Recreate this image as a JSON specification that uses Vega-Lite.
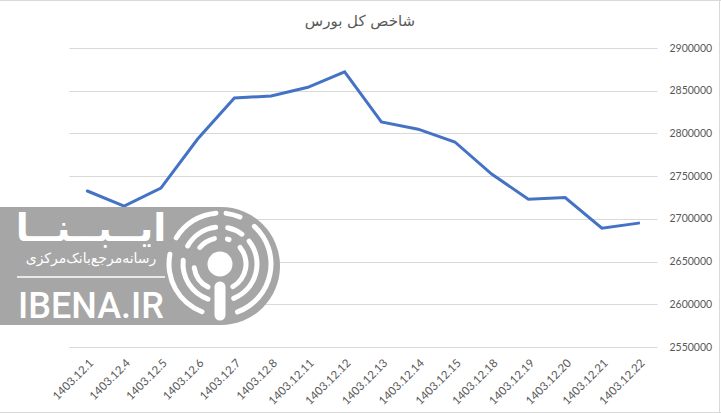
{"$schema":"https://vega.github.io/schema/vega-lite/v6.json","width":588,"height":299,"autosize":"none","padding":{"left":69,"right":64,"top":48,"bottom":66},"background":"white","config":{"view":{"stroke":null}},
"datasets":{"idx":[{"d":"1403.12.1","v":2732600},{"d":"1403.12.4","v":2715000},{"d":"1403.12.5","v":2736000},{"d":"1403.12.6","v":2793500},{"d":"1403.12.7","v":2841500},{"d":"1403.12.8","v":2843800},{"d":"1403.12.11","v":2854000},{"d":"1403.12.12","v":2872000},{"d":"1403.12.13","v":2813400},{"d":"1403.12.14","v":2805000},{"d":"1403.12.15","v":2790000},{"d":"1403.12.18","v":2752500},{"d":"1403.12.19","v":2723000},{"d":"1403.12.20","v":2725000},{"d":"1403.12.21","v":2689000},{"d":"1403.12.22","v":2695000}],
"panel":[{"x":0,"x2":221,"y":207,"y2":325}],
"outer":[{"x":221,"y":266}],
"disc":[{"x":220,"y":264}],
"stem":[{"x":220,"y":287,"y2":315}],
"arcs":[
{"x":220,"y":264,"r":48.5,"r2":53.5,"a":-1.08,"b":-0.03},
{"x":220,"y":264,"r":48.5,"r2":53.5,"a":0.07,"b":0.45},
{"x":220,"y":264,"r":48.5,"r2":53.5,"a":0.69,"b":2.84},
{"x":220,"y":264,"r":48.5,"r2":53.5,"a":-2.83,"b":-1.33},
{"x":220,"y":264,"r":34.5,"r2":39.5,"a":-1.13,"b":-0.05},
{"x":220,"y":264,"r":34.5,"r2":39.5,"a":0.14,"b":0.7},
{"x":220,"y":264,"r":34.5,"r2":39.5,"a":0.84,"b":2.83},
{"x":220,"y":264,"r":34.5,"r2":39.5,"a":-2.88,"b":-1.4},
{"x":220,"y":264,"r":23.5,"r2":28.5,"a":-0.98,"b":-0.12},
{"x":220,"y":264,"r":23.5,"r2":28.5,"a":0.19,"b":0.45},
{"x":220,"y":264,"r":23.5,"r2":28.5,"a":0.79,"b":2.72},
{"x":220,"y":264,"r":23.5,"r2":28.5,"a":-2.76,"b":-1.62}],
"chartTitle":[{"t":"شاخص کل بورس","x":360,"y":26}],
"labels":[
{"t":"ایــبــنــا","x":91,"y":241,"f":"DejaVu Sans","s":38,"w":"bold"},
{"t":"رسانه‌مرجع‌بانک‌مرکزی","x":91,"y":263,"f":"DejaVu Sans","s":14,"w":"normal"},
{"t":"IBENA.IR","x":91,"y":318,"f":"Roboto","s":36,"w":"500"}],
"white":[{"x":17,"x2":165,"y":277,"y2":277}],
"frame":[{"x":0,"x2":721,"y":0.5,"y2":0.5},{"x":0,"x2":721,"y":412.5,"y2":412.5},{"x":719.5,"x2":719.5,"y":0,"y2":413}]},
"layer":[
{"data":{"name":"idx"},"mark":{"type":"line","color":"#4472C4","strokeWidth":3,"strokeCap":"round"},"encoding":{"x":{"field":"d","type":"ordinal","sort":null,"scale":{"paddingInner":0,"paddingOuter":0.5,"align":0.5},"axis":{"title":null,"domain":false,"ticks":false,"labelAngle":-45,"labelFont":"Lato","labelFontSize":11.5,"labelColor":"#595959","labelPadding":10,"grid":false}},"y":{"field":"v","type":"quantitative","scale":{"domain":[2550000,2900000],"nice":false,"zero":false},"axis":{"title":null,"orient":"right","domain":false,"ticks":false,"values":[2550000,2600000,2650000,2700000,2750000,2800000,2850000,2900000],"format":"d","labelFont":"Lato","labelFontSize":10.5,"labelColor":"#595959","labelPadding":12,"grid":true,"gridColor":"#D9D9D9","gridWidth":1}}}},
{"data":{"name":"frame"},"mark":{"type":"rule","color":"#D9D9D9","strokeWidth":1,"clip":false},"encoding":{"x":{"field":"x","type":"quantitative","scale":{"domain":[69,657],"nice":false,"zero":false},"axis":null},"x2":{"field":"x2"},"y":{"field":"y","type":"quantitative","scale":{"domain":[48,347],"reverse":true,"nice":false,"zero":false},"axis":null},"y2":{"field":"y2"}}},
{"data":{"name":"chartTitle"},"mark":{"type":"text","color":"#595959","font":"DejaVu Sans","fontSize":15,"align":"center","baseline":"alphabetic","clip":false},"encoding":{"text":{"field":"t"},"x":{"field":"x","type":"quantitative","scale":{"domain":[69,657],"nice":false,"zero":false},"axis":null},"y":{"field":"y","type":"quantitative","scale":{"domain":[48,347],"reverse":true,"nice":false,"zero":false},"axis":null}}},
{"data":{"name":"outer"},"mark":{"type":"circle","color":"#A6A6A6","size":13924,"opacity":1,"clip":false},"encoding":{"x":{"field":"x","type":"quantitative","scale":{"domain":[69,657],"nice":false,"zero":false},"axis":null},"y":{"field":"y","type":"quantitative","scale":{"domain":[48,347],"reverse":true,"nice":false,"zero":false},"axis":null}}},
{"data":{"name":"panel"},"mark":{"type":"rect","color":"#A6A6A6","clip":false},"encoding":{"x":{"field":"x","type":"quantitative","scale":{"domain":[69,657],"nice":false,"zero":false},"axis":null},"x2":{"field":"x2"},"y":{"field":"y","type":"quantitative","scale":{"domain":[48,347],"reverse":true,"nice":false,"zero":false},"axis":null},"y2":{"field":"y2"}}},
{"data":{"name":"arcs"},"mark":{"type":"arc","color":"white","cornerRadius":2.5,"clip":false},"encoding":{"x":{"field":"x","type":"quantitative","scale":{"domain":[69,657],"nice":false,"zero":false},"axis":null},"y":{"field":"y","type":"quantitative","scale":{"domain":[48,347],"reverse":true,"nice":false,"zero":false},"axis":null},"theta":{"field":"a","type":"quantitative","scale":null},"theta2":{"field":"b"},"radius":{"field":"r2","type":"quantitative","scale":null},"radius2":{"field":"r"}}},
{"data":{"name":"disc"},"mark":{"type":"circle","color":"white","size":625,"opacity":1,"clip":false},"encoding":{"x":{"field":"x","type":"quantitative","scale":{"domain":[69,657],"nice":false,"zero":false},"axis":null},"y":{"field":"y","type":"quantitative","scale":{"domain":[48,347],"reverse":true,"nice":false,"zero":false},"axis":null}}},
{"data":{"name":"stem"},"mark":{"type":"rule","color":"white","strokeWidth":11,"strokeCap":"round","clip":false},"encoding":{"x":{"field":"x","type":"quantitative","scale":{"domain":[69,657],"nice":false,"zero":false},"axis":null},"y":{"field":"y","type":"quantitative","scale":{"domain":[48,347],"reverse":true,"nice":false,"zero":false},"axis":null},"y2":{"field":"y2"}}},
{"data":{"name":"white"},"mark":{"type":"rule","color":"white","strokeWidth":1.5,"clip":false},"encoding":{"x":{"field":"x","type":"quantitative","scale":{"domain":[69,657],"nice":false,"zero":false},"axis":null},"x2":{"field":"x2"},"y":{"field":"y","type":"quantitative","scale":{"domain":[48,347],"reverse":true,"nice":false,"zero":false},"axis":null},"y2":{"field":"y2"}}},
{"data":{"name":"labels"},"transform":[{"filter":"datum.f=='DejaVu Sans' && datum.s==38"}],"mark":{"type":"text","color":"white","font":"DejaVu Sans","fontSize":38,"fontWeight":"bold","align":"center","baseline":"alphabetic","clip":false},"encoding":{"text":{"field":"t"},"x":{"field":"x","type":"quantitative","scale":{"domain":[69,657],"nice":false,"zero":false},"axis":null},"y":{"field":"y","type":"quantitative","scale":{"domain":[48,347],"reverse":true,"nice":false,"zero":false},"axis":null}}},
{"data":{"name":"labels"},"transform":[{"filter":"datum.s==14"}],"mark":{"type":"text","color":"white","font":"DejaVu Sans","fontSize":14,"align":"center","baseline":"alphabetic","clip":false},"encoding":{"text":{"field":"t"},"x":{"field":"x","type":"quantitative","scale":{"domain":[69,657],"nice":false,"zero":false},"axis":null},"y":{"field":"y","type":"quantitative","scale":{"domain":[48,347],"reverse":true,"nice":false,"zero":false},"axis":null}}},
{"data":{"name":"labels"},"transform":[{"filter":"datum.f=='Roboto'"}],"mark":{"type":"text","color":"white","font":"Roboto","fontSize":36,"fontWeight":500,"align":"center","baseline":"alphabetic","clip":false},"encoding":{"text":{"field":"t"},"x":{"field":"x","type":"quantitative","scale":{"domain":[69,657],"nice":false,"zero":false},"axis":null},"y":{"field":"y","type":"quantitative","scale":{"domain":[48,347],"reverse":true,"nice":false,"zero":false},"axis":null}}}
],"resolve":{"scale":{"x":"independent","y":"independent"},"axis":{"x":"independent","y":"independent"}}}
